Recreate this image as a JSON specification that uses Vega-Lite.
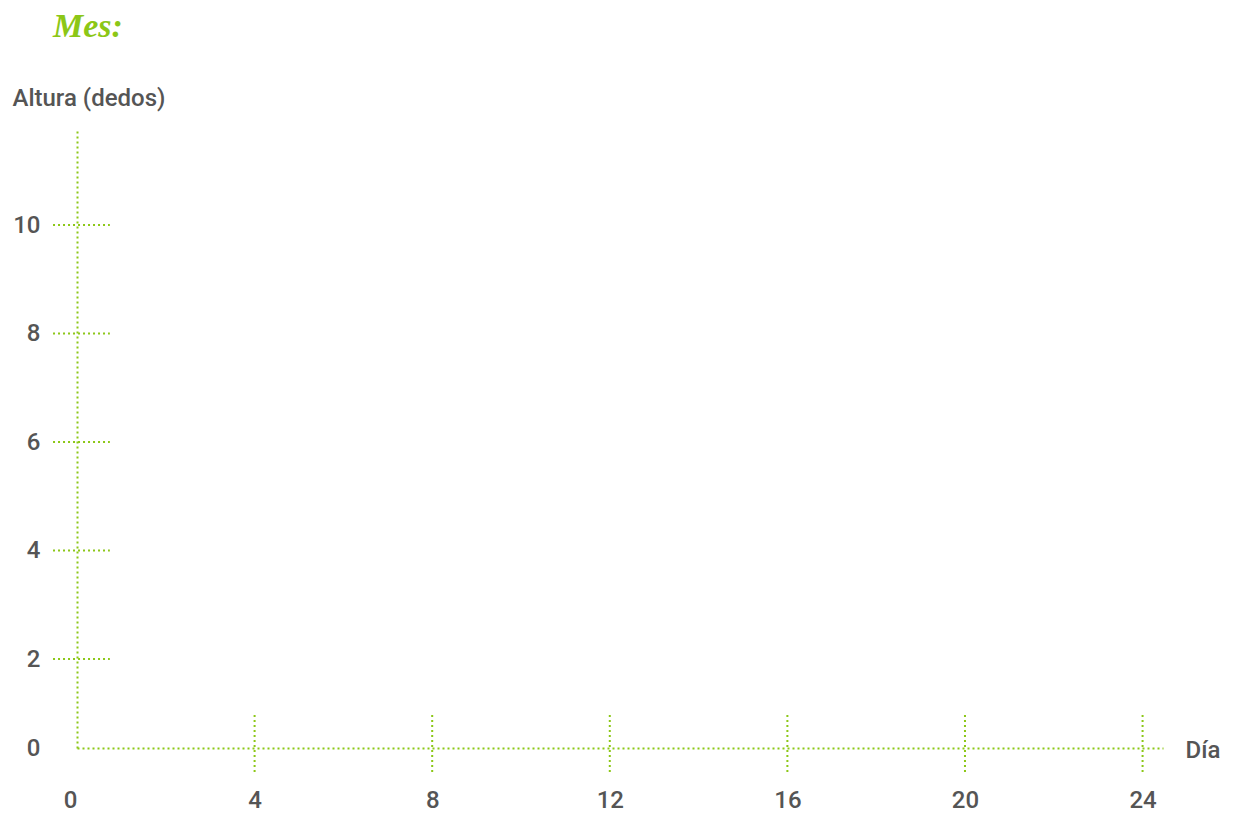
{
  "$schema": "https://vega.github.io/schema/vega-lite/v6.json",
  "width": 1086,
  "height": 619,
  "autosize": "none",
  "padding": {"left": 77, "top": 129, "right": 71, "bottom": 66},
  "background": "white",
  "config": {"view": {"stroke": null}, "font": "Roboto"},
  "title": {"text": "Mes:", "anchor": "start", "frame": "group", "font": "Liberation Serif", "fontStyle": "italic", "fontWeight": "bold", "fontSize": 34, "color": "#8cc717", "dx": -24, "offset": 42},
  "datasets": {
    "yticks": [{"v": 2}, {"v": 4}, {"v": 6}, {"v": 8}, {"v": 10}],
    "xticks": [{"v": 4}, {"v": 8}, {"v": 12}, {"v": 16}, {"v": 20}, {"v": 24}]
  },
  "layer": [
    {
      "data": {"name": "yticks"},
      "mark": {"type": "rule", "color": "#8cc717", "strokeWidth": 2, "strokeDash": [2, 3]},
      "encoding": {
        "y": {"field": "v", "type": "quantitative",
          "scale": {"domain": [0, 2, 10, 11.77], "range": [619, 530, 96, 0], "nice": false, "zero": false},
          "axis": {"title": "Altura (dedos)", "values": [0, 2, 4, 6, 8, 10], "grid": false, "ticks": false, "domain": true, "domainColor": "#8cc717", "domainWidth": 2, "domainDash": [2, 3], "labelFont": "Roboto", "labelFontSize": 24, "labelFontWeight": 500, "labelColor": "#555555", "labelPadding": 37, "titleAngle": 0, "titleAlign": "left", "titleBaseline": "middle", "titleX": -65, "titleY": -31, "titleFont": "Roboto", "titleFontSize": 24, "titleFontWeight": 500, "titleColor": "#555555"}},
        "x": {"datum": -0.54, "type": "quantitative",
          "scale": {"domain": [0, 24.46], "nice": false, "zero": false},
          "axis": {"title": "Día", "values": [0, 4, 8, 12, 16, 20, 24], "grid": false, "ticks": false, "domain": true, "domainColor": "#8cc717", "domainWidth": 2, "domainDash": [2, 3], "labelFont": "Roboto", "labelFontSize": 24, "labelFontWeight": 500, "labelColor": "#555555", "labelPadding": 40, "labelFlush": false, "labelOverlap": false, "labelAlign": {"condition": {"test": "datum.value == 0", "value": "right"}, "value": "center"}, "titleAlign": "left", "titleBaseline": "middle", "titleX": 1108, "titleY": 2, "titleFont": "Roboto", "titleFontSize": 24, "titleFontWeight": 500, "titleColor": "#555555"}},
        "x2": {"datum": 0.74}
      }
    },
    {
      "data": {"name": "xticks"},
      "mark": {"type": "rule", "color": "#8cc717", "strokeWidth": 2, "strokeDash": [2, 3]},
      "encoding": {
        "x": {"field": "v", "type": "quantitative",
          "scale": {"domain": [0, 24.46], "nice": false, "zero": false},
          "axis": {"title": "Día", "values": [0, 4, 8, 12, 16, 20, 24], "grid": false, "ticks": false, "domain": true, "domainColor": "#8cc717", "domainWidth": 2, "domainDash": [2, 3], "labelFont": "Roboto", "labelFontSize": 24, "labelFontWeight": 500, "labelColor": "#555555", "labelPadding": 40, "labelFlush": false, "labelOverlap": false, "labelAlign": {"condition": {"test": "datum.value == 0", "value": "right"}, "value": "center"}, "titleAlign": "left", "titleBaseline": "middle", "titleX": 1108, "titleY": 2, "titleFont": "Roboto", "titleFontSize": 24, "titleFontWeight": 500, "titleColor": "#555555"}},
        "y": {"datum": 0.74, "type": "quantitative",
          "scale": {"domain": [0, 2, 10, 11.77], "range": [619, 530, 96, 0], "nice": false, "zero": false},
          "axis": {"title": "Altura (dedos)", "values": [0, 2, 4, 6, 8, 10], "grid": false, "ticks": false, "domain": true, "domainColor": "#8cc717", "domainWidth": 2, "domainDash": [2, 3], "labelFont": "Roboto", "labelFontSize": 24, "labelFontWeight": 500, "labelColor": "#555555", "labelPadding": 37, "titleAngle": 0, "titleAlign": "left", "titleBaseline": "middle", "titleX": -65, "titleY": -31, "titleFont": "Roboto", "titleFontSize": 24, "titleFontWeight": 500, "titleColor": "#555555"}},
        "y2": {"datum": -0.54}
      }
    }
  ]
}
